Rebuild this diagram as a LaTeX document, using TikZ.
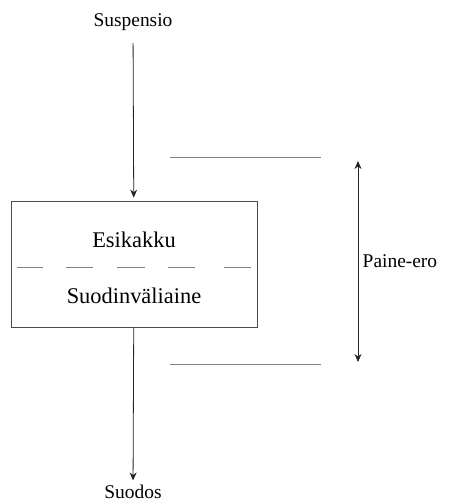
\documentclass[tikz,border=0pt]{standalone}
\usepackage{fontspec}
\setmainfont{Liberation Serif}
\usetikzlibrary{positioning, arrows.meta, calc}

\begin{document}
\begin{tikzpicture}[x=1bp, y=-1bp, font=\fontsize{19.5}{22}\selectfont,
    >={Stealth[length=8bp,width=7bp]}, line width=0.8bp]
  \useasboundingbox (0,0) rectangle (467,504);

  % Filter box with cake and medium
  \node[draw, draw=black!70, minimum width=246bp, minimum height=126bp] (filter) at (134,264) {};
  \node[font=\fontsize{22.5}{25}\selectfont] (cake) at (134,240) {Esikakku};
  \node[font=\fontsize{22.5}{25}\selectfont] (medium) at (134,296) {Suodinväliaine};
  \foreach \a/\b in {17/43, 66/93, 117/145, 168/195, 224/251} {
    \draw[black!50] (\a,267) -- (\b,267);
  }

  % Feed and filtrate
  \node (feed) at (133,22) {Suspensio};
  \node (filtrate) at (133,492) {Suodos};
  \draw[->, black!85, shorten <=9bp, shorten >=3bp] (feed) -- (filter);
  \draw[->, black!85, shorten >=1bp] (filter) -- (filtrate);

  % Pressure difference
  \draw[black!50] (170,157) -- (321,157);
  \draw[black!50] (170,364) -- (321,364);
  \coordinate (ptop) at (358,161);
  \coordinate (pbot) at (358,362);
  \draw[<->, black!85] (ptop) -- (pbot);
  \node[right=1bp of $(ptop)!0.5!(pbot)$] (dp) {Paine-ero};
\end{tikzpicture}
\end{document}
